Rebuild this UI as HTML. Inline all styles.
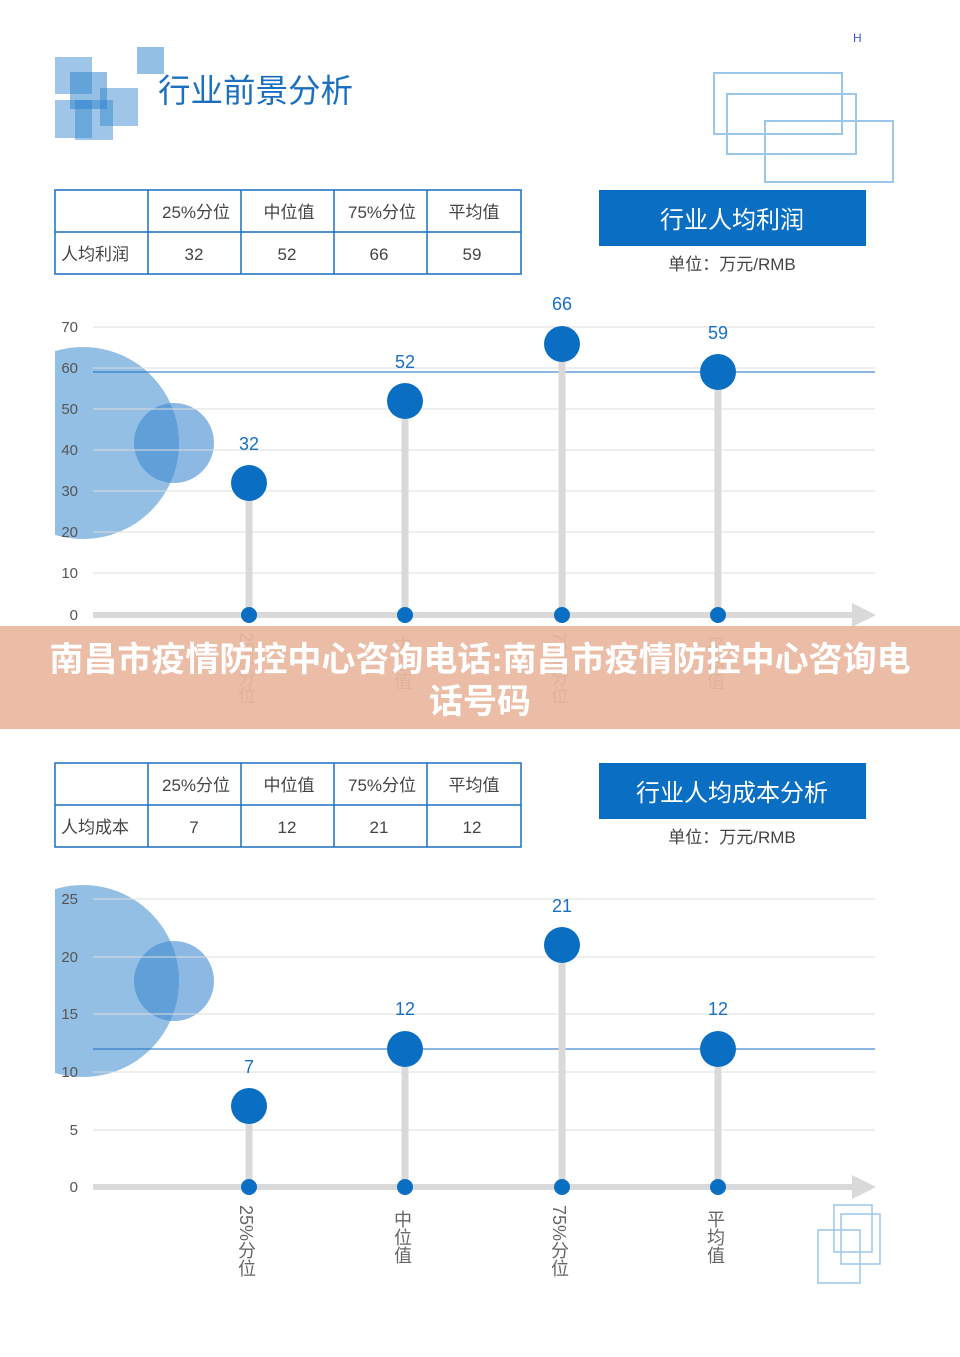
<!DOCTYPE html>
<html><head><meta charset="utf-8"><style>
html,body{margin:0;padding:0;background:#fff}
svg{display:block}
</style></head><body>
<svg width="960" height="1357" viewBox="0 0 960 1357" xmlns="http://www.w3.org/2000/svg" font-family="Liberation Sans, Noto Sans CJK SC, sans-serif">
<defs><clipPath id="cl"><rect x="55" y="0" width="905" height="1357"/></clipPath></defs>
<g fill="#2a80cc">
<rect x="55" y="57" width="37" height="37" opacity="0.45"/>
<rect x="70" y="72" width="37" height="37" opacity="0.5"/>
<rect x="100" y="88" width="38" height="38" opacity="0.45"/>
<rect x="55" y="100" width="37" height="38" opacity="0.45"/>
<rect x="75" y="100" width="38" height="40" opacity="0.45"/>
<rect x="137" y="47" width="27" height="27" opacity="0.5"/>
</g>
<text x="158" y="102" font-size="32.5" fill="#1a6fc0">行业前景分析</text>
<text x="853" y="42" font-size="12" fill="#4455cc">H</text>
<g fill="none" stroke="#9cc6ea" stroke-width="2">
<rect x="714" y="73" width="128" height="61"/><rect x="727" y="94" width="129" height="60"/><rect x="765" y="121" width="128" height="61"/>
</g>
<g stroke="#1a6fc0" stroke-width="1.5" fill="none">
<rect x="55" y="190" width="466" height="84"/><line x1="55" y1="232" x2="521" y2="232"/>
<line x1="148" y1="190" x2="148" y2="274"/><line x1="241" y1="190" x2="241" y2="274"/><line x1="334" y1="190" x2="334" y2="274"/><line x1="427" y1="190" x2="427" y2="274"/>
</g>
<g font-size="17" fill="#444" text-anchor="middle">
<text x="196" y="218">25%分位</text><text x="289" y="218">中位值</text><text x="382" y="218">75%分位</text><text x="474" y="218">平均值</text>
<text x="95" y="260">人均利润</text><text x="194" y="260">32</text><text x="287" y="260">52</text><text x="379" y="260">66</text><text x="472" y="260">59</text>
</g>
<rect x="599" y="190" width="267" height="56" fill="#0a6fc2"/>
<text x="732" y="228" font-size="24" fill="#fff" text-anchor="middle">行业人均利润</text>
<text x="732" y="270" font-size="17" fill="#444" text-anchor="middle">单位：万元/RMB</text>
<g clip-path="url(#cl)"><circle cx="83" cy="443" r="96" fill="#6fa9db" opacity="0.75"/></g>
<circle cx="174" cy="443" r="40" fill="#3d8bd0" opacity="0.6"/>
<g stroke="#ddd" stroke-width="1">
<line x1="93" y1="327" x2="875" y2="327"/><line x1="93" y1="368" x2="875" y2="368"/><line x1="93" y1="409" x2="875" y2="409"/><line x1="93" y1="450" x2="875" y2="450"/><line x1="93" y1="491" x2="875" y2="491"/><line x1="93" y1="532" x2="875" y2="532"/><line x1="93" y1="573" x2="875" y2="573"/>
</g>
<line x1="93" y1="372" x2="875" y2="372" stroke="#1a6fc0" stroke-width="1"/>
<g font-size="15" fill="#555" text-anchor="end">
<text x="78" y="332">70</text><text x="78" y="373">60</text><text x="78" y="414">50</text><text x="78" y="455">40</text><text x="78" y="496">30</text><text x="78" y="537">20</text><text x="78" y="578">10</text><text x="78" y="620">0</text>
</g>
<line x1="93" y1="615" x2="858" y2="615" stroke="#d9d9d9" stroke-width="6"/>
<polygon points="852,603 876,615 852,627" fill="#d9d9d9"/>
<g stroke="#d9d9d9" stroke-width="7">
<line x1="249" y1="483" x2="249" y2="615"/><line x1="405" y1="401" x2="405" y2="615"/><line x1="562" y1="344" x2="562" y2="615"/><line x1="718" y1="372" x2="718" y2="615"/>
</g>
<g fill="#0a6fc2">
<circle cx="249" cy="483" r="18"/><circle cx="405" cy="401" r="18"/><circle cx="562" cy="344" r="18"/><circle cx="718" cy="372" r="18"/>
<circle cx="249" cy="615" r="8"/><circle cx="405" cy="615" r="8"/><circle cx="562" cy="615" r="8"/><circle cx="718" cy="615" r="8"/>
</g>
<g font-size="18" fill="#1a6fc0" text-anchor="middle">
<text x="249" y="450">32</text><text x="405" y="368">52</text><text x="562" y="310">66</text><text x="718" y="339">59</text>
</g>
<g font-size="18" fill="#666">
<text x="246" y="632" style="writing-mode:tb">25%分位</text>
<text x="402" y="636" style="writing-mode:tb">中位值</text>
<text x="559" y="632" style="writing-mode:tb">75%分位</text>
<text x="715" y="636" style="writing-mode:tb">平均值</text>
</g>
<rect x="0" y="626" width="960" height="103" fill="#e9b8a0" opacity="0.93"/>
<g font-size="34" font-weight="bold" fill="#fff" text-anchor="middle">
<text x="480" y="671">南昌市疫情防控中心咨询电话:南昌市疫情防控中心咨询电</text>
<text x="480" y="713">话号码</text>
</g>
<g stroke="#1a6fc0" stroke-width="1.5" fill="none">
<rect x="55" y="763" width="466" height="84"/><line x1="55" y1="805" x2="521" y2="805"/>
<line x1="148" y1="763" x2="148" y2="847"/><line x1="241" y1="763" x2="241" y2="847"/><line x1="334" y1="763" x2="334" y2="847"/><line x1="427" y1="763" x2="427" y2="847"/>
</g>
<g font-size="17" fill="#444" text-anchor="middle">
<text x="196" y="791">25%分位</text><text x="289" y="791">中位值</text><text x="382" y="791">75%分位</text><text x="474" y="791">平均值</text>
<text x="95" y="833">人均成本</text><text x="194" y="833">7</text><text x="287" y="833">12</text><text x="379" y="833">21</text><text x="472" y="833">12</text>
</g>
<rect x="599" y="763" width="267" height="56" fill="#0a6fc2"/>
<text x="732" y="801" font-size="24" fill="#fff" text-anchor="middle">行业人均成本分析</text>
<text x="732" y="843" font-size="17" fill="#444" text-anchor="middle">单位：万元/RMB</text>
<g clip-path="url(#cl)"><circle cx="83" cy="981" r="96" fill="#6fa9db" opacity="0.75"/></g>
<circle cx="174" cy="981" r="40" fill="#3d8bd0" opacity="0.6"/>
<g stroke="#ddd" stroke-width="1">
<line x1="93" y1="899" x2="875" y2="899"/><line x1="93" y1="957" x2="875" y2="957"/><line x1="93" y1="1014" x2="875" y2="1014"/><line x1="93" y1="1072" x2="875" y2="1072"/><line x1="93" y1="1130" x2="875" y2="1130"/>
</g>
<line x1="93" y1="1049" x2="875" y2="1049" stroke="#1a6fc0" stroke-width="1"/>
<g font-size="15" fill="#555" text-anchor="end">
<text x="78" y="904">25</text><text x="78" y="962">20</text><text x="78" y="1019">15</text><text x="78" y="1077">10</text><text x="78" y="1135">5</text><text x="78" y="1192">0</text>
</g>
<line x1="93" y1="1187" x2="858" y2="1187" stroke="#d9d9d9" stroke-width="6"/>
<polygon points="852,1175 876,1187 852,1199" fill="#d9d9d9"/>
<g stroke="#d9d9d9" stroke-width="7">
<line x1="249" y1="1106" x2="249" y2="1187"/><line x1="405" y1="1049" x2="405" y2="1187"/><line x1="562" y1="945" x2="562" y2="1187"/><line x1="718" y1="1049" x2="718" y2="1187"/>
</g>
<g fill="#0a6fc2">
<circle cx="249" cy="1106" r="18"/><circle cx="405" cy="1049" r="18"/><circle cx="562" cy="945" r="18"/><circle cx="718" cy="1049" r="18"/>
<circle cx="249" cy="1187" r="8"/><circle cx="405" cy="1187" r="8"/><circle cx="562" cy="1187" r="8"/><circle cx="718" cy="1187" r="8"/>
</g>
<g font-size="18" fill="#1a6fc0" text-anchor="middle">
<text x="249" y="1073">7</text><text x="405" y="1015">12</text><text x="562" y="912">21</text><text x="718" y="1015">12</text>
</g>
<g font-size="18" fill="#666">
<text x="246" y="1205" style="writing-mode:tb">25%分位</text>
<text x="402" y="1210" style="writing-mode:tb">中位值</text>
<text x="559" y="1205" style="writing-mode:tb">75%分位</text>
<text x="715" y="1210" style="writing-mode:tb">平均值</text>
</g>
<g fill="none" stroke="#9cc6ea" stroke-width="1.5">
<rect x="834" y="1205" width="38" height="47"/><rect x="841" y="1214" width="39" height="50"/><rect x="818" y="1230" width="42" height="53"/>
</g>
</svg>
</body></html>
